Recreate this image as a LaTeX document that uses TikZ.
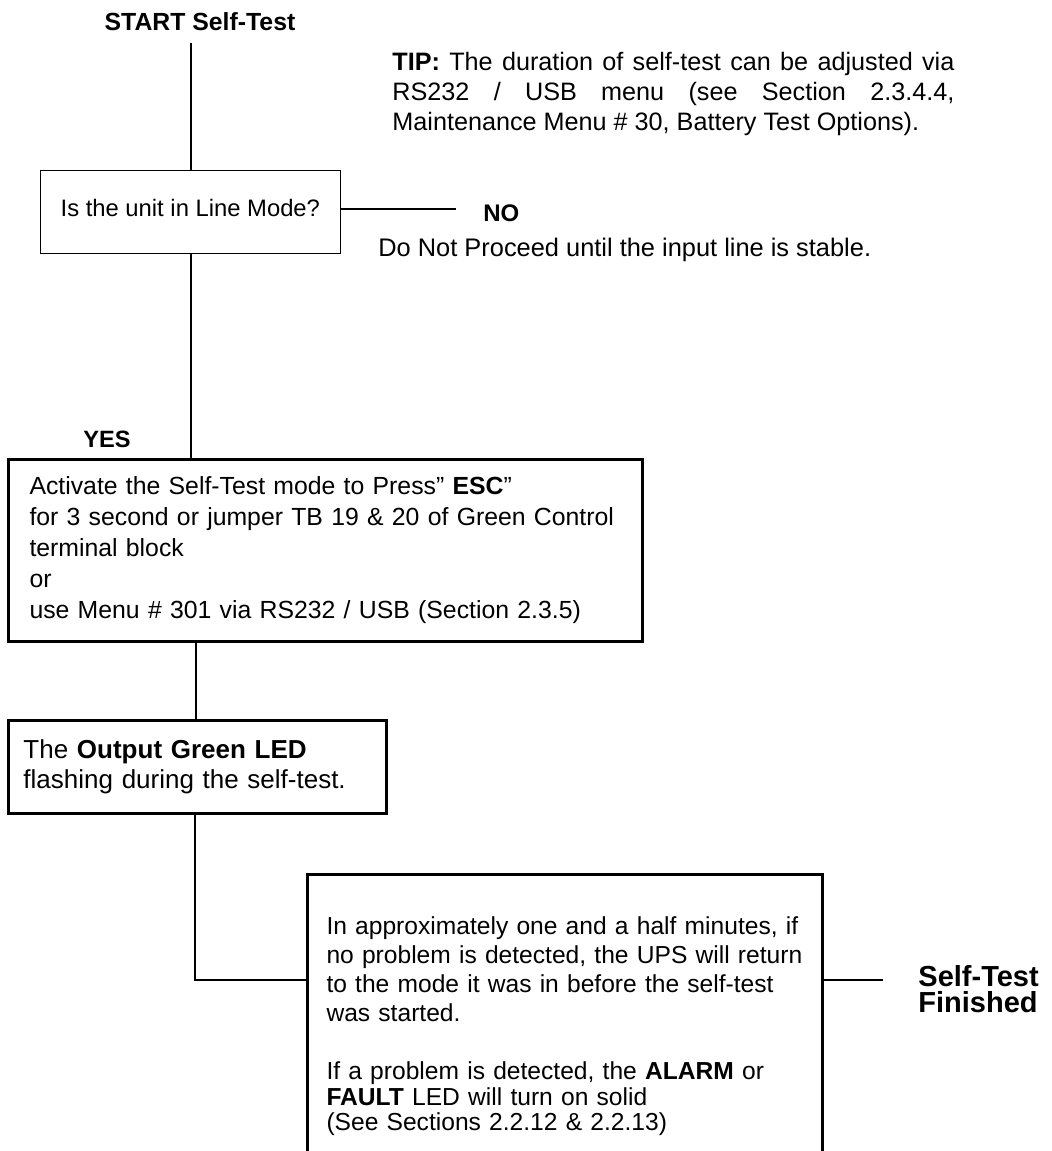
\documentclass[tikz,border=0pt]{standalone}
\usepackage{fontspec}
\setmainfont{Liberation Sans}
\begin{document}
\begin{tikzpicture}[x=0.5pt,y=-0.5pt,
  mybox/.style={draw, line width=1.5pt, rectangle, anchor=north west, inner ysep=0pt, align=left},
  conn/.style={line width=1pt},
  thickconn/.style={line width=1.3pt},
  lbl/.style={inner sep=0pt}]
\useasboundingbox (0,0) rectangle (1051,1151);
\clip (0,0) rectangle (1051,1151);

% title and tip
\node[lbl, anchor=base, font=\fontsize{12.4}{14}\selectfont\bfseries] (start) at (200,31) {START Self-Test};
\node[lbl, anchor=north west, text width=281pt, align=justify, font=\fontsize{12.6}{15}\selectfont] (tip) at (392,52)
  {\textbf{TIP:} The duration of self-test can be adjusted via\linebreak RS232 / USB menu (see Section 2.3.4.4,\linebreak Maintenance Menu \# 30, Battery Test Options).};

% question box
\node[draw, line width=0.6pt, anchor=north west, minimum width=150.25pt, minimum height=41.5pt, inner sep=0pt,
  text height=9pt, text depth=5pt, font=\fontsize{11.9}{14}\selectfont] (q) at (39.5,170) {Is the unit in Line Mode?};

\node[lbl, anchor=base west, font=\fontsize{12}{14}\selectfont\bfseries] (no) at (483,221) {NO};
\node[lbl, anchor=base west, font=\fontsize{12.7}{15}\selectfont] (dnp) at (378,256) {Do Not Proceed until the input line is stable.};
\node[lbl, anchor=base west, font=\fontsize{11.8}{14}\selectfont\bfseries] (yes) at (83,447.5) {YES};

% main box
\node[mybox, minimum height=91pt, text width=296pt, inner xsep=10.5pt, font=\fontsize{12.4}{15.5}\selectfont] (main) at (7,458)
  {\mbox{Activate the Self-Test mode to Press” \textbf{ESC}”}\\
   \mbox{for 3 second or jumper TB 19 \& 20 of Green Control}\\
   \mbox{terminal block}\\
   \mbox{or}\\
   \mbox{use Menu \# 301 via RS232 / USB (Section 2.3.5)}};

% LED box
\node[mybox, minimum height=46.5pt, text width=174pt, inner xsep=7.5pt, font=\fontsize{13}{15}\selectfont] (led) at (7,719)
  {The \textbf{Output Green LED}\\ flashing during the self-test.};

% final box
\node[mybox, minimum height=152pt, text width=238.5pt, inner xsep=9.5pt, font=\fontsize{12.3}{14.5}\selectfont] (fin) at (306,873)
  {\mbox{In approximately one and a half minutes, if}\\
   \mbox{no problem is detected, the UPS will return}\\
   \mbox{to the mode it was in before the self-test}\\
   \mbox{was started.}\\[14.5pt]
   \mbox{If a problem is detected, the \textbf{ALARM} or}\\[-1.75pt]
   \mbox{\textbf{FAULT} LED will turn on solid}\\[-1.75pt]
   \mbox{(See Sections 2.2.12 \& 2.2.13)}};

\node[lbl, anchor=north west, align=left, font=\fontsize{14.5}{13}\selectfont\bfseries] (done) at (918,965) {Self-Test\\Finished};

% connectors
\coordinate (c0) at (191,43);
\draw[conn] (c0) -- (c0 |- q.north);
\draw[conn] (c0 |- q.south) -- (c0 |- main.north);
\coordinate (noend) at (456,209);
\draw[thickconn] (noend -| q.east) -- (noend);
\coordinate (c2) at (196,0);
\draw[conn] (c2 |- main.south) -- (c2 |- led.north);
\coordinate (j) at (195,980);
\draw[thickconn] (j |- led.south) -- (j) -- (j -| fin.west);
\coordinate (fe) at (883,980);
\draw[thickconn] (fe -| fin.east) -- (fe);
\end{tikzpicture}
\end{document}
